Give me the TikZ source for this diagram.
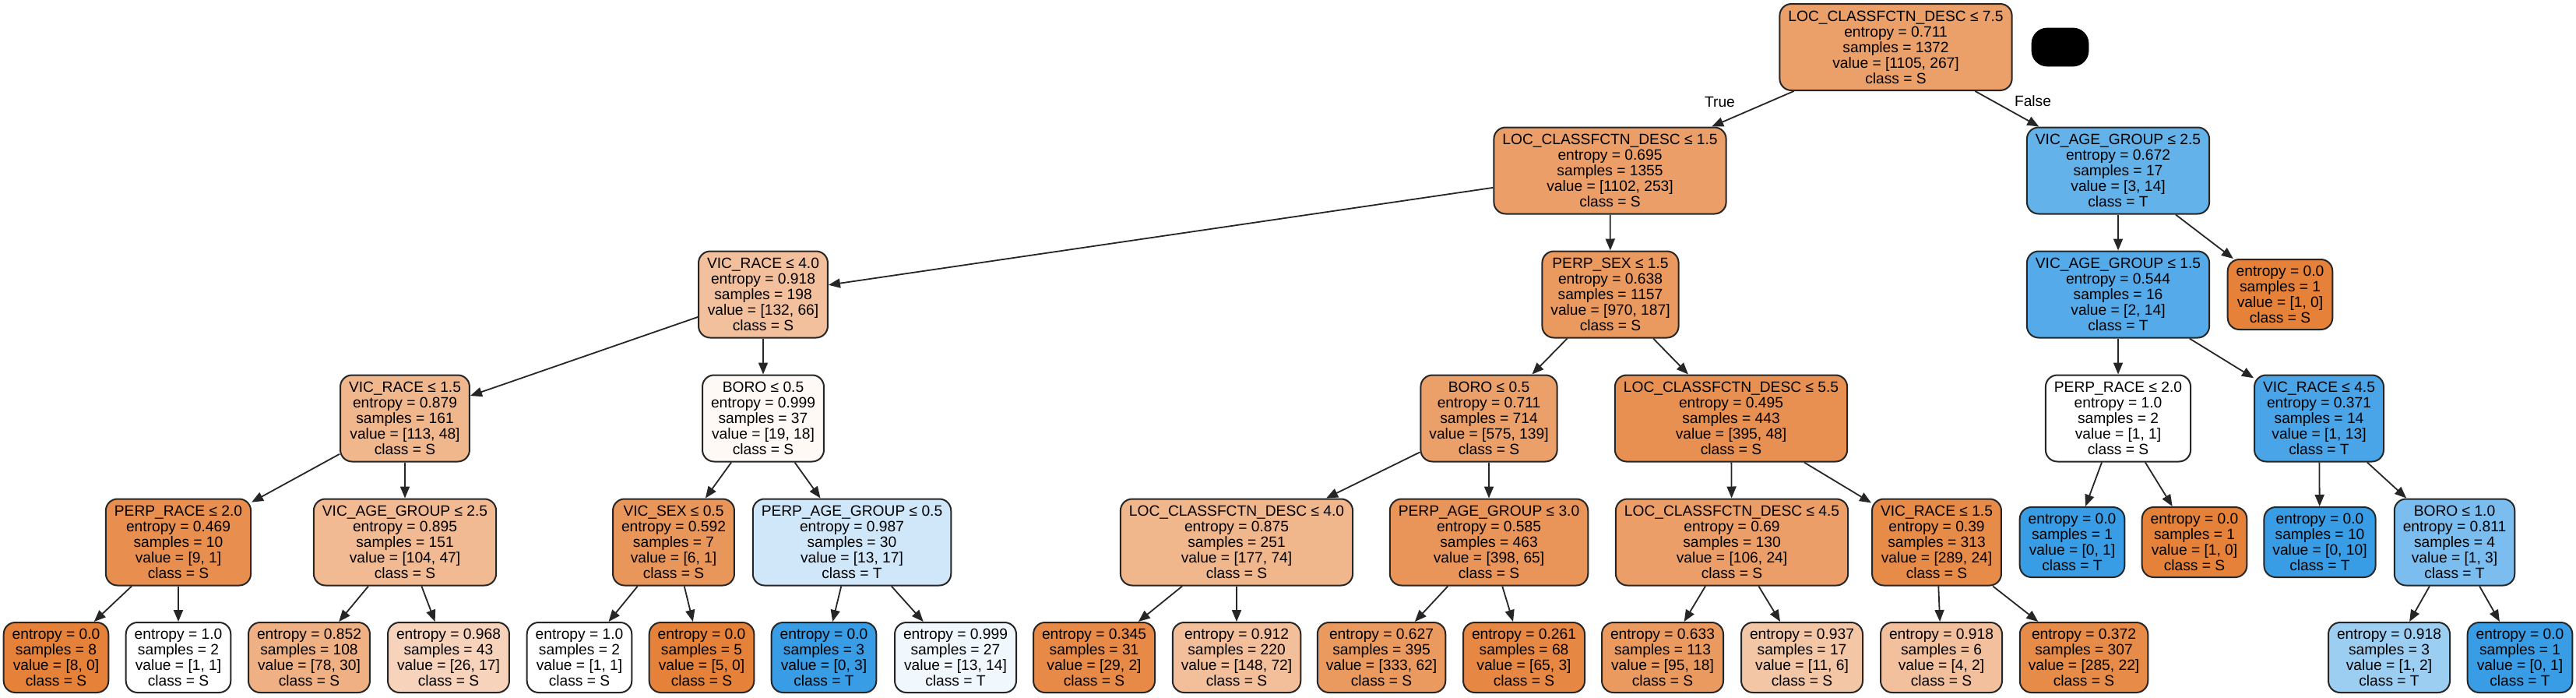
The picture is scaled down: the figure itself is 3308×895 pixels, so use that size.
\documentclass[tikz,border=0pt]{standalone}
\usepackage{fontspec}
\setmainfont{Liberation Sans}
\usetikzlibrary{arrows.meta}
\definecolor{cS}{RGB}{229,129,57}
\definecolor{cT}{RGB}{57,157,229}
\newcommand\dtin[5]{#1 ≤ #2\\entropy = #3\\samples = #4\\value = [#5]}
\newcommand\dtlf[3]{entropy = #1\\samples = #2\\value = [#3]}
\tikzset{
  tn/.style={draw=black!85, line width=1pt, rounded corners=7.5pt, align=center,
    inner xsep=5.5pt, inner ysep=1pt, minimum height=55.5pt,
    font=\fontsize{9.6}{10}\selectfont},
  lf/.style={tn, minimum height=45pt},
  ed/.style={draw=black!85, line width=0.9pt, -{Triangle[length=7.5pt,width=6pt]}},
  elab/.style={font=\fontsize{9.6}{10}\selectfont, inner sep=0pt},
}
\begin{document}
\begin{tikzpicture}[x=0.5pt,y=-0.5pt]
\fill[white] (0,0) rectangle (3308,895);
\useasboundingbox (0,0) rectangle (3308,895);
% rank 0
\node[tn, fill=cS!76!white] (n0) at (2434.5,60.5) {\dtin{LOC\_CLASSFCTN\_DESC}{7.5}{0.711}{1372}{1105, 267}\\class = S};
\node[draw=black, fill=black, rounded corners=10pt, minimum width=36.5pt, minimum height=24.5pt, inner sep=0pt] (blk) at (2645.5,60.5) {};
% rank 1
\node[tn, fill=cS!77!white] (n1) at (2067.5,219) {\dtin{LOC\_CLASSFCTN\_DESC}{1.5}{0.695}{1355}{1102, 253}\\class = S};
\node[tn, fill=cT!79!white] (n32) at (2720,219) {\dtin{VIC\_AGE\_GROUP}{2.5}{0.672}{17}{3, 14}\\class = T};
% rank 2
\node[tn, fill=cS!50!white] (n2) at (980,378) {\dtin{VIC\_RACE}{4.0}{0.918}{198}{132, 66}\\class = S};
\node[tn, fill=cS!81!white] (n17) at (2068,378) {\dtin{PERP\_SEX}{1.5}{0.638}{1157}{970, 187}\\class = S};
\node[tn, fill=cT!86!white] (n33) at (2720,378) {\dtin{VIC\_AGE\_GROUP}{1.5}{0.544}{16}{2, 14}\\class = T};
\node[lf, fill=cS] (n42) at (2928,378) {\dtlf{0.0}{1}{1, 0}\\class = S};
% rank 3
\node[tn, fill=cS!58!white] (n3) at (520,537) {\dtin{VIC\_RACE}{1.5}{0.879}{161}{113, 48}\\class = S};
\node[tn, fill=cS!5!white] (n10) at (980,537) {\dtin{BORO}{0.5}{0.999}{37}{19, 18}\\class = S};
\node[tn, fill=cS!76!white] (n18) at (1912,537) {\dtin{BORO}{0.5}{0.711}{714}{575, 139}\\class = S};
\node[tn, fill=cS!88!white] (n25) at (2223,537) {\dtin{LOC\_CLASSFCTN\_DESC}{5.5}{0.495}{443}{395, 48}\\class = S};
\node[tn, fill=white] (n34) at (2720,537) {\dtin{PERP\_RACE}{2.0}{1.0}{2}{1, 1}\\class = S};
\node[tn, fill=cT!92!white] (n37) at (2978,537) {\dtin{VIC\_RACE}{4.5}{0.371}{14}{1, 13}\\class = T};
% rank 4
\node[tn, fill=cS!89!white] (n4) at (229,696) {\dtin{PERP\_RACE}{2.0}{0.469}{10}{9, 1}\\class = S};
\node[tn, fill=cS!55!white] (n7) at (520,696) {\dtin{VIC\_AGE\_GROUP}{2.5}{0.895}{151}{104, 47}\\class = S};
\node[tn, fill=cS!83!white] (n11) at (865,696) {\dtin{VIC\_SEX}{0.5}{0.592}{7}{6, 1}\\class = S};
\node[tn, fill=cT!24!white] (n14) at (1094,696) {\dtin{PERP\_AGE\_GROUP}{0.5}{0.987}{30}{13, 17}\\class = T};
\node[tn, fill=cS!58!white] (n19) at (1588,696) {\dtin{LOC\_CLASSFCTN\_DESC}{4.0}{0.875}{251}{177, 74}\\class = S};
\node[tn, fill=cS!84!white] (n22) at (1912,696) {\dtin{PERP\_AGE\_GROUP}{3.0}{0.585}{463}{398, 65}\\class = S};
\node[tn, fill=cS!77!white] (n26) at (2224,696) {\dtin{LOC\_CLASSFCTN\_DESC}{4.5}{0.69}{130}{106, 24}\\class = S};
\node[tn, fill=cS!92!white] (n29) at (2487,696) {\dtin{VIC\_RACE}{1.5}{0.39}{313}{289, 24}\\class = S};
\node[lf, fill=cT] (n35) at (2661,696) {\dtlf{0.0}{1}{0, 1}\\class = T};
\node[lf, fill=cS] (n36) at (2818,696) {\dtlf{0.0}{1}{1, 0}\\class = S};
\node[lf, fill=cT] (n38) at (2979,696) {\dtlf{0.0}{10}{0, 10}\\class = T};
\node[tn, fill=cT!67!white] (n39) at (3152,696) {\dtin{BORO}{1.0}{0.811}{4}{1, 3}\\class = T};
% rank 5
\node[lf, fill=cS] (n5) at (72,844) {\dtlf{0.0}{8}{8, 0}\\class = S};
\node[lf, fill=white] (n6) at (229,844) {\dtlf{1.0}{2}{1, 1}\\class = S};
\node[lf, fill=cS!62!white] (n8) at (397,844) {\dtlf{0.852}{108}{78, 30}\\class = S};
\node[lf, fill=cS!35!white] (n9) at (576,844) {\dtlf{0.968}{43}{26, 17}\\class = S};
\node[lf, fill=white] (n12) at (744,844) {\dtlf{1.0}{2}{1, 1}\\class = S};
\node[lf, fill=cS] (n13) at (901,844) {\dtlf{0.0}{5}{5, 0}\\class = S};
\node[lf, fill=cT] (n15) at (1058,844) {\dtlf{0.0}{3}{0, 3}\\class = T};
\node[lf, fill=cT!7!white] (n16) at (1227,844) {\dtlf{0.999}{27}{13, 14}\\class = T};
\node[lf, fill=cS!93!white] (n20) at (1405,844) {\dtlf{0.345}{31}{29, 2}\\class = S};
\node[lf, fill=cS!51!white] (n21) at (1588,844) {\dtlf{0.912}{220}{148, 72}\\class = S};
\node[lf, fill=cS!81!white] (n23) at (1774,844) {\dtlf{0.627}{395}{333, 62}\\class = S};
\node[lf, fill=cS!95!white] (n24) at (1957,844) {\dtlf{0.261}{68}{65, 3}\\class = S};
\node[lf, fill=cS!81!white] (n27) at (2135,844) {\dtlf{0.633}{113}{95, 18}\\class = S};
\node[lf, fill=cS!45!white] (n28) at (2314,844) {\dtlf{0.937}{17}{11, 6}\\class = S};
\node[lf, fill=cS!50!white] (n30) at (2493,844) {\dtlf{0.918}{6}{4, 2}\\class = S};
\node[lf, fill=cS!92!white] (n31) at (2676,844) {\dtlf{0.372}{307}{285, 22}\\class = S};
\node[lf, fill=cT!50!white] (n40) at (3068,844) {\dtlf{0.918}{3}{1, 2}\\class = T};
\node[lf, fill=cT] (n41) at (3236,844) {\dtlf{0.0}{1}{0, 1}\\class = T};
% edges
\foreach \a/\b in {n0/n1, n0/n32, n1/n2, n1/n17, n2/n3, n2/n10, n3/n4, n3/n7,
  n4/n5, n4/n6, n7/n8, n7/n9, n10/n11, n10/n14, n11/n12, n11/n13, n14/n15, n14/n16,
  n17/n18, n17/n25, n18/n19, n18/n22, n19/n20, n19/n21, n22/n23, n22/n24,
  n25/n26, n25/n29, n26/n27, n26/n28, n29/n30, n29/n31,
  n32/n33, n32/n42, n33/n34, n33/n37, n34/n35, n34/n36, n37/n38, n37/n39, n39/n40, n39/n41}
  {\draw[ed] (\a) -- (\b);}
\node[elab] (lt) at (2208.5,131) {True};
\node[elab] (lfz) at (2610.5,130) {False};
\end{tikzpicture}
\end{document}
